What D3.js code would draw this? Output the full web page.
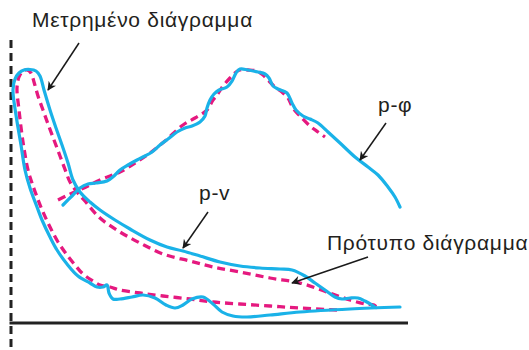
<!DOCTYPE html>
<html><head><meta charset="utf-8">
<script src="https://cdn.jsdelivr.net/npm/d3@7"></script>
<style>html,body{margin:0;padding:0;background:#fff;}svg{display:block;}</style>
</head><body>
<svg id="chart" width="529" height="350"></svg>
<script>
// Measured diagram (p-v loop), [volume, pressure] readings
const measuredPV = [[389,16],[339,14],[289,11],[259,8],[236,6],[222,7],[211,11],[202,19],[192,26],[181,24],[172,18],[164,15],[155,18],[144,25],[132,28],[121,26],[109,24],[102,24],[98,30],[96,38],[92,36],[86,36],[79,40],[67,47],[56,59],[46,73],[39,86],[31,103],[26,116],[19,135],[14,153],[10,178],[5,208],[2,233],[4,244],[8,250],[13,253],[19,253.5],[25,252],[29,247],[33,233],[39,213],[45,195],[51,178],[57,160],[62,143],[69,131],[79,121],[89,113],[104,103],[119,94],[139,83],[156,76],[172,72],[189,67],[209,61],[229,57],[249,55],[269,54],[281,53],[294,47],[304,40],[314,33],[324,26],[331,24],[339,25],[347,25],[354,22],[361,18],[365,15]];
// Prototype diagram (p-v loop)
const prototypePV = [[326,13],[289,15],[259,17],[229,19],[202,21],[179,24],[152,27],[129,30],[109,33],[99,36],[89,38],[82,42],[72,49],[64,58],[56,68],[47,81],[39,96],[32,111],[26,126],[21,140],[17,153],[12,181],[8,213],[6,235],[8,246],[12,252],[16,253],[20,250],[23,241],[27,227],[32,213],[37,199],[43,183],[49,167],[55,151],[59,141],[66,131],[73,123],[89,105],[109,91],[129,80],[152,69],[179,62],[202,56],[229,51],[259,45],[289,40],[316,31],[339,23],[354,19],[363,18],[366,15]];
// Measured p-φ curve
const measuredPPhi = [[52,118],[61,127],[69,135],[77,139],[85,140],[96,142],[103,147],[109,153],[117,158],[126,163],[134,167],[141,171],[149,178],[157,184],[166,191],[174,195],[181,197],[189,201],[194,207],[196,215],[199,223],[203,229],[208,233],[216,236],[221,242],[225,250],[229,254],[237,253],[247,251],[254,249],[258,245],[262,237],[267,234],[276,230],[281,220],[285,213],[292,207],[299,204],[307,200],[317,191],[329,180],[344,166],[357,156],[367,148],[377,136],[384,126],[389,116]];
// Prototype p-φ curve
const prototypePPhi = [[47,123],[57,128],[66,132],[77,137],[89,143],[99,147],[109,151],[124,160],[139,170],[154,182],[172,198],[184,205],[196,213],[202,223],[206,228],[212,237],[219,245],[225,251],[229,253],[237,253],[246,252],[252,248],[257,243],[264,236],[271,231],[277,225],[282,215],[289,207],[299,197],[307,191],[314,186]];
// Labels and arrows (in chart units)
const labelTexts = ["Μετρημένο διάγραμμα", "p-φ", "p-v", "Πρότυπο διάγραμμα"];
const labelAnchors = [[21,296],[367,211],[188,123],[316,73]];
const arrowFrom = [[68,280],[375,200],[197,111],[357,66]];
const arrowTo = [[37,233],[349,163],[172,75],[281,40]];

const svg = d3.select("#chart");
const x = d3.scaleLinear().domain([0,400]).range([11,411]);
const y = d3.scaleLinear().domain([0,280]).range([323,43]);

const defs = svg.append("defs");
defs.append("marker").attr("id","ah").attr("viewBox","0 0 10 10")
  .attr("refX",9).attr("refY",5).attr("markerWidth",11).attr("markerHeight",9)
  .attr("markerUnits","userSpaceOnUse").attr("orient","auto")
  .append("path").attr("d","M0,0 L10,5 L0,10 L3,5 Z").attr("fill","#1a1a1a");

// axes
svg.append("line").attr("x1",x(0)).attr("x2",x(0)).attr("y1",y(283)).attr("y2",350)
  .attr("stroke","#222").attr("stroke-width",3).attr("stroke-dasharray","8,5");
svg.append("line").attr("x1",x(0)-1.5).attr("x2",x(397)).attr("y1",y(0)).attr("y2",y(0))
  .attr("stroke","#222").attr("stroke-width",3);

const line = d3.line().x(d=>x(d[0])).y(d=>y(d[1])).curve(d3.curveCatmullRom.alpha(0.5));

const pink = "#e5197f", blue = "#1ab2e8";
[prototypePV, prototypePPhi].forEach(d=>{
  svg.append("path").attr("d",line(d)).attr("fill","none").attr("stroke",pink)
    .attr("stroke-width",3.3).attr("stroke-dasharray","8,5");
});
[measuredPV, measuredPPhi].forEach(d=>{
  svg.append("path").attr("d",line(d)).attr("fill","none").attr("stroke",blue)
    .attr("stroke-width",3.2).attr("stroke-linecap","round").attr("stroke-linejoin","round");
});

arrowFrom.forEach((f,i)=>{
  svg.append("line").attr("x1",x(f[0])).attr("y1",y(f[1]))
    .attr("x2",x(arrowTo[i][0])).attr("y2",y(arrowTo[i][1]))
    .attr("stroke","#1a1a1a").attr("stroke-width",1.5).attr("marker-end","url(#ah)");
});

labelTexts.forEach((t,i)=>{
  svg.append("text").attr("x",x(labelAnchors[i][0])).attr("y",y(labelAnchors[i][1]))
    .attr("font-family","'Liberation Sans', Arial, sans-serif").attr("font-size",21)
    .attr("letter-spacing","0.7").attr("fill","#231f20").text(t);
});
</script>
</body></html>
